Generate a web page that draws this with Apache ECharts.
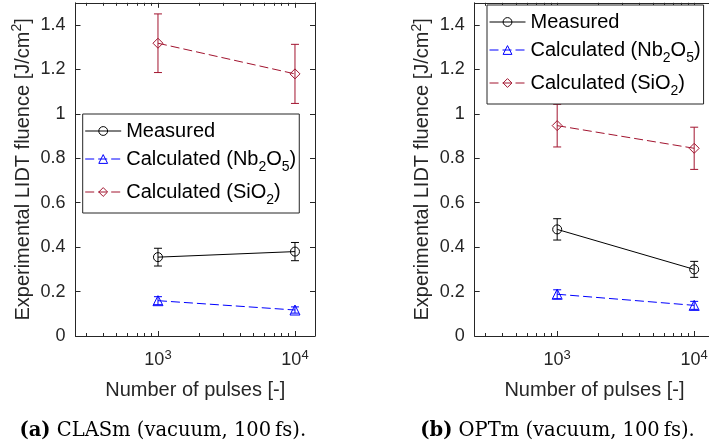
<!DOCTYPE html>
<html><head><meta charset="utf-8">
<script src="https://cdn.jsdelivr.net/npm/echarts@6/dist/echarts.min.js"></script>
<style>html,body{margin:0;padding:0;background:#fff}#c{width:709px;height:447px}</style>
</head><body><div id="c"></div>
<script>
// ---- data ----
const pulses = [1000, 10000];
const clasMeasured = [0.355, 0.380];
const clasMeasuredErr = [0.040, 0.041];
const clasNb = [0.159, 0.117];
const clasNbErr = [0.018, 0.014];
const clasSi = [1.318, 1.180];
const clasSiErr = [0.132, 0.133];
const optMeasured = [0.480, 0.300];
const optMeasuredErr = [0.048, 0.036];
const optNb = [0.188, 0.138];
const optNbErr = [0.020, 0.018];
const optSi = [0.947, 0.845];
const optSiErr = [0.096, 0.095];
const yTickValues = [0, 0.2, 0.4, 0.6, 0.8, 1, 1.2, 1.4];
const xMajorTicks = [1000, 10000];
const xMinorTicks = [300, 400, 500, 600, 700, 800, 900, 2000, 3000, 4000, 5000, 6000, 7000, 8000, 9000];
const seriesNames = ['Measured', 'Calculated (Nb2O5)', 'Calculated (SiO2)'];
const captions = ['(a)|CLASm (vacuum, 100\u2009fs).', '(b)|OPTm (vacuum, 100\u2009fs).'];
const xTitle = 'Number of pulses [-]';

// ---- styling ----
const SANS = '"Liberation Sans", Arial, sans-serif';
const SERIF = '"DejaVu Serif", serif';
const AXC = '#262626';
const COLORS = ['#000000', '#0000ff', '#A2142F'];
const SYMBOLS = ['circle', 'triangle', 'diamond'];
const SYMSIZE = [9, 10, 10];
const LTYPE = ['solid', [9, 4], [9, 4]];

const gridsPos = [
  {left: 75.5, top: 2.8, width: 239.5, height: 333.2},
  {left: 474.7, top: 2.8, width: 239.5, height: 333.2}
];
const legendPos = [{left: 82.7, top: 114}, {left: 487, top: 5}];
const panelData = [
  [[clasMeasured, clasMeasuredErr], [clasNb, clasNbErr], [clasSi, clasSiErr]],
  [[optMeasured, optMeasuredErr], [optNb, optNbErr], [optSi, optSiErr]]
];

const XMIN = 250, XMAX = 14000;
const line1 = {lineStyle: {color: AXC, width: 1}};

function legendLabel(name) {
  if (name === 'Calculated (Nb2O5)') return '{n|Calculated (Nb}{s|2}{n|O}{s|5}{n|)}';
  if (name === 'Calculated (SiO2)') return '{n|Calculated (SiO}{s|2}{n|)}';
  return '{n|' + name + '}';
}

const xAxis = [], yAxis = [], series = [], grid = [], legend = [], graphic = [];

gridsPos.forEach((gp, g) => {
  grid.push(Object.assign({outerBoundsMode: 'none', containLabel: false}, gp));
  const base = {type: 'log', logBase: 10, gridIndex: g, min: XMIN, max: XMAX, splitLine: {show: false}, axisPointer: {show: false}};
  xAxis.push(Object.assign({}, base, {
    position: 'bottom',
    axisLine: Object.assign({show: true}, line1),
    axisTick: Object.assign({show: true, inside: true, length: 5, customValues: xMajorTicks}, line1),
    axisLabel: {
      show: true, customValues: xMajorTicks, margin: 12, color: AXC,
      formatter: v => '{b|10}{s|' + Math.round(Math.log10(v)) + '}',
      rich: {
        b: {fontSize: 18, fontFamily: SANS, color: AXC, lineHeight: 24},
        s: {fontSize: 13, fontFamily: SANS, color: AXC, lineHeight: 13, padding: [0, 0, 10, 0]}
      }
    },
    name: xTitle, nameLocation: 'middle', nameGap: 44,
    nameTextStyle: {fontSize: 20, fontFamily: SANS, color: AXC}
  }));
  xAxis.push(Object.assign({}, base, {
    position: 'bottom', axisLine: {show: false},
    axisTick: Object.assign({show: true, inside: true, length: 3, customValues: xMinorTicks}, line1),
    axisLabel: {show: false}
  }));
  xAxis.push(Object.assign({}, base, {
    position: 'top', axisLine: Object.assign({show: true}, line1),
    axisTick: Object.assign({show: true, inside: true, length: 5, customValues: xMajorTicks}, line1),
    axisLabel: {show: false}
  }));
  xAxis.push(Object.assign({}, base, {
    position: 'top', axisLine: {show: false},
    axisTick: Object.assign({show: true, inside: true, length: 3, customValues: xMinorTicks}, line1),
    axisLabel: {show: false}
  }));
  const ybase = {type: 'value', gridIndex: g, min: 0, max: 1.5, splitLine: {show: false}, axisPointer: {show: false}};
  yAxis.push(Object.assign({}, ybase, {
    position: 'left',
    axisLine: Object.assign({show: true}, line1),
    axisTick: Object.assign({show: true, inside: true, length: 5, customValues: yTickValues}, line1),
    axisLabel: {show: true, customValues: yTickValues, margin: 10, color: AXC, fontSize: 18, fontFamily: SANS,
      formatter: v => String(+(+v).toFixed(1))},
    name: '{a|Experimental LIDT fluence [J/cm}{p|2}{a|]}',
    nameLocation: 'middle', nameRotate: 90, nameGap: 35,
    nameTextStyle: {
      color: AXC, fontSize: 20, fontFamily: SANS,
      rich: {
        a: {fontSize: 20, fontFamily: SANS, color: AXC, lineHeight: 26},
        p: {fontSize: 14, fontFamily: SANS, color: AXC, lineHeight: 14, padding: [0, 0, 12, 0]}
      }
    }
  }));
  yAxis.push(Object.assign({}, ybase, {
    position: 'right',
    axisLine: Object.assign({show: true}, line1),
    axisTick: Object.assign({show: true, inside: true, length: 5, customValues: yTickValues}, line1),
    axisLabel: {show: false}
  }));

  panelData[g].forEach((pair, k) => {
    const vals = pair[0], errs = pair[1];
    const col = COLORS[k];
    series.push({
      type: 'custom', name: seriesNames[k] + ' error', xAxisIndex: g * 4, yAxisIndex: g * 2,
      data: pulses.map((p, i) => [p, vals[i] - errs[i], vals[i] + errs[i]]),
      encode: {x: 0, y: [1, 2]},
      silent: true, z: 2,
      renderItem: (params, api) => {
        const x = api.value(0);
        const lo = api.coord([x, api.value(1)]);
        const hi = api.coord([x, api.value(2)]);
        const w = 4;
        const st = {stroke: col, lineWidth: 1};
        return {type: 'group', children: [
          {type: 'line', shape: {x1: lo[0], y1: lo[1], x2: hi[0], y2: hi[1]}, style: st},
          {type: 'line', shape: {x1: lo[0] - w, y1: lo[1], x2: lo[0] + w, y2: lo[1]}, style: st},
          {type: 'line', shape: {x1: hi[0] - w, y1: hi[1], x2: hi[0] + w, y2: hi[1]}, style: st}
        ]};
      }
    });
    series.push({
      type: 'line', name: seriesNames[k], xAxisIndex: g * 4, yAxisIndex: g * 2,
      data: pulses.map((p, i) => [p, vals[i]]),
      symbol: SYMBOLS[k], symbolSize: SYMSIZE[k], showSymbol: true,
      color: col,
      itemStyle: {color: 'none', borderColor: col, borderWidth: 1},
      lineStyle: {color: col, width: 1, type: LTYPE[k]},
      emphasis: {disabled: true}, silent: true, z: 3
    });
  });

  legend.push(Object.assign({
    orient: 'vertical', data: seriesNames, selectedMode: false,
    itemWidth: 36, itemHeight: 11, itemGap: 3,
    padding: [7, 3, 6, 2],
    borderColor: AXC, borderWidth: 1, backgroundColor: '#ffffff',
    itemStyle: {borderWidth: 1},
    lineStyle: {width: 1},
    formatter: legendLabel,
    textStyle: {
      fontSize: 20, fontFamily: SANS, color: '#000',
      rich: {
        n: {fontSize: 20, fontFamily: SANS, color: '#000', lineHeight: 26},
        s: {fontSize: 14, fontFamily: SANS, color: '#000', lineHeight: 10, padding: [16, 0, 0, 0]}
      }
    },
    z: 10
  }, legendPos[g]));

  const parts = captions[g].split('|');
  graphic.push({
    type: 'text',
    x: g === 0 ? 162.8 : 557.5, y: 431,
    style: {
      text: '{b|' + parts[0] + '} {n|' + parts[1] + '}',
      align: 'center', verticalAlign: 'middle',
      fontSize: 19.5, fontFamily: SERIF, fill: '#000',
      rich: {
        b: {fontSize: 19.5, fontFamily: SERIF, fontWeight: 'bold', fill: '#000'},
        n: {fontSize: 19.5, fontFamily: SERIF, fill: '#000'}
      }
    }
  });
});

const chart = echarts.init(document.getElementById('c'), null, {renderer: 'canvas'});
chart.setOption({
  animation: false,
  backgroundColor: '#ffffff',
  grid, xAxis, yAxis, series, legend, graphic
});
</script>
</body></html>
